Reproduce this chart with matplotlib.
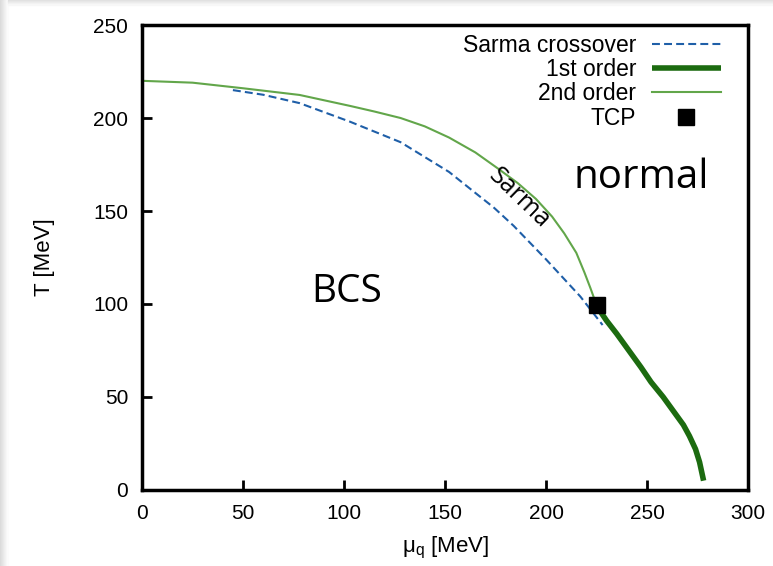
import matplotlib.pyplot as plt
import numpy as np
from matplotlib.patches import Rectangle

# 2nd order line (thin), from mu=0 to the TCP
mu_2nd = [0, 25, 50, 78, 103, 115, 128, 140, 152, 165, 176, 186, 195, 203, 209, 215, 219, 222, 225]
T_2nd = [220, 219, 216, 212.4, 206.5, 203.5, 200, 195.5, 189.5, 181.5, 173, 165, 156.5, 147,
         138, 127.5, 117, 108.5, 99.5]

# 1st order line (thick), from the TCP down to T ~ 0
mu_1st = [225, 230, 235, 241, 247, 252, 258, 264, 268, 271, 274, 276, 278]
T_1st = [99, 91, 84, 75, 66, 58, 50, 41, 35, 29, 22, 15, 5]

# Sarma crossover (dashed)
mu_sarma = [45, 60, 78, 103, 128, 152, 167, 174, 184, 200, 217, 228]
T_sarma = [215, 212.5, 208, 198, 187, 171, 158, 152, 142, 124, 104, 88.7]

# tricritical point
mu_tcp = [225]
T_tcp = [99.5]

xticks = [0, 50, 100, 150, 200, 250, 300]
yticks = [0, 50, 100, 150, 200, 250]

plt.rcParams["font.family"] = ["Liberation Sans", "DejaVu Sans"]
label_font = ["Open Sans", "DejaVu Sans"]

fig = plt.figure(figsize=(7.73, 5.66), dpi=100)
ax = fig.add_axes([0.1837, 0.1343, 0.7840, 0.8215])

# faint grey shadow at left/top edge of the screenshot
for i in range(8):
    g = 0.86 + 0.018 * i
    fig.patches.append(Rectangle((i / 773, 0), 1 / 773, 1, transform=fig.transFigure,
                                 color=(g, g, g), zorder=-10))
for i in range(5):
    g = 0.88 + 0.022 * i
    fig.patches.append(Rectangle((8 / 773, 1 - (i + 1) / 566), 1, 1 / 566,
                                 transform=fig.transFigure, color=(g, g, g), zorder=-10))

ax.plot(mu_sarma, T_sarma, color="#1f5fa8", lw=1.5, ls=(0, (3.8, 2.0)),
        label="Sarma crossover")
ax.plot(mu_1st, T_1st, color="#1c6b10", lw=4, solid_capstyle="butt", label="1st order")
ax.plot(mu_2nd, T_2nd, color="#62a64a", lw=1.5, label="2nd order")
ax.plot(mu_tcp, T_tcp, ls="none", marker="s", ms=11, color="black", label="TCP", zorder=5)

ax.text(101.5, 106.5, "BCS", fontsize=28, family=label_font, ha="center", va="center")
ax.text(247, 168, "normal", fontsize=29, family=label_font, ha="center", va="center")
ax.text(186.6, 157, "Sarma", fontsize=18, family=label_font,
        ha="center", va="center", rotation=-44)

ax.set_xlim(0, 300)
ax.set_ylim(0, 250)
ax.set_xticks(xticks)
ax.set_yticks(yticks)
ax.tick_params(direction="in", length=7, width=2, labelsize=15, pad=10)
for s in ax.spines.values():
    s.set_linewidth(2.5)

ax.set_xlabel(r"$\mathregular{\mu_q}$ [MeV]", fontsize=16, labelpad=9)
ax.set_ylabel("T [MeV]", fontsize=16, labelpad=27)

ax.legend(loc="upper right", bbox_to_anchor=(1 - 18 / 606, 1), frameon=False,
          markerfirst=False, fontsize=16.5, handlelength=3.0, handletextpad=0.7,
          labelspacing=0.05, borderaxespad=0, borderpad=0.4)

fig.savefig("out.png", dpi=100)
